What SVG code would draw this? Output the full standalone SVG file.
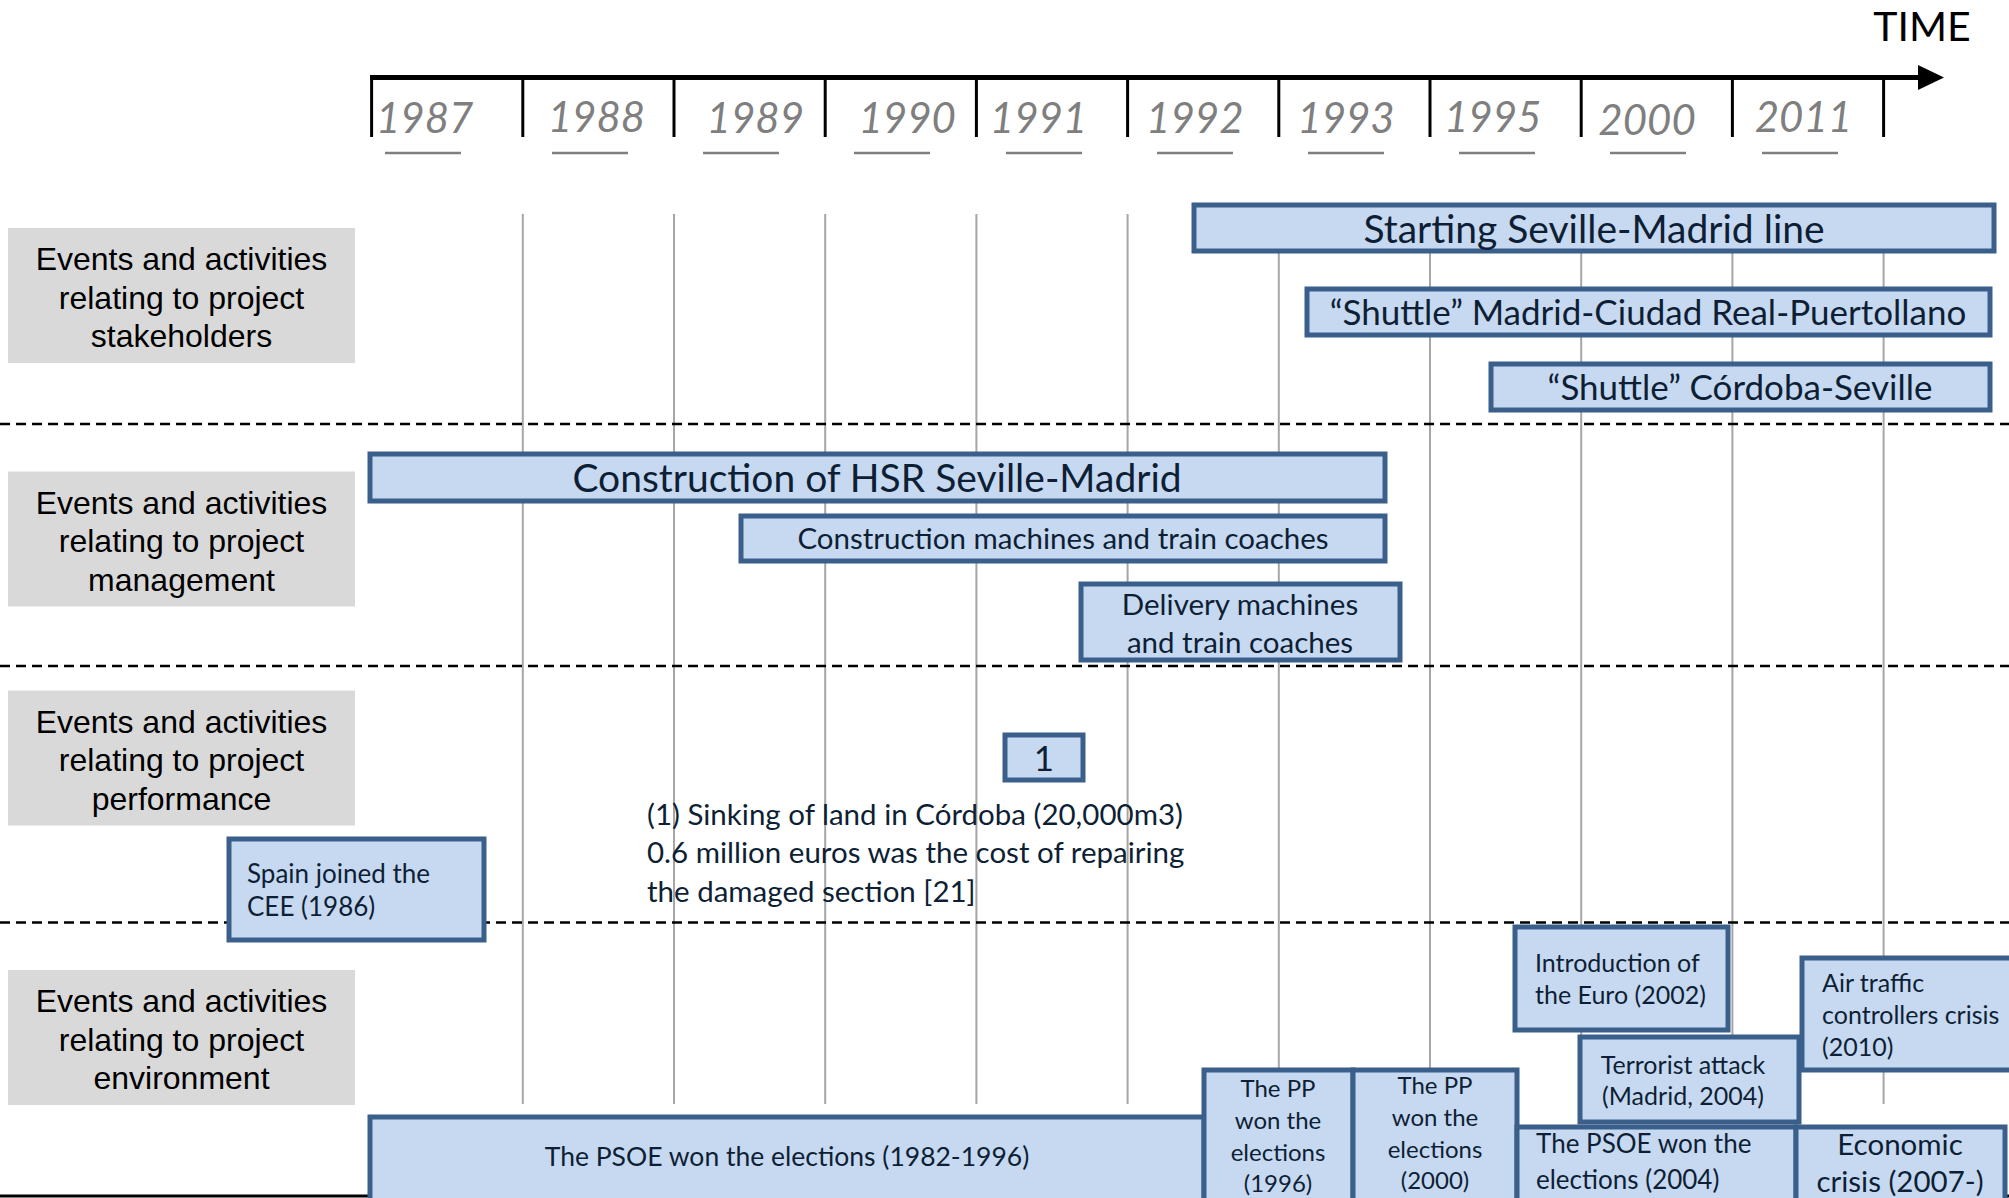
<svg xmlns="http://www.w3.org/2000/svg" width="2009" height="1198" viewBox="0 0 2009 1198">
<style>
.yr{font-family:Lato,"Open Sans",sans-serif;font-style:italic;font-size:42px;fill:#7f7f7f;text-anchor:middle}
.ul{stroke:#7f7f7f;stroke-width:2.5}
.tick{stroke:#000;stroke-width:3}
.grid{stroke:#a6a6a6;stroke-width:2}
.dash{stroke:#000;stroke-width:2.5;stroke-dasharray:10 6}
.cat{fill:#d9d9d9}
.ct{font-family:"Liberation Sans",Arial,sans-serif;font-size:32px;fill:#000;text-anchor:middle}
.bx{fill:#c6d9f1;stroke:#3a5f8b;stroke-width:5}
.t{font-family:Lato,"Open Sans",sans-serif;fill:#0e1f35}
.m{text-anchor:middle}
</style>
<rect width="2009" height="1198" fill="#fff"/>
<g id="axis">
<line x1="370" y1="77.5" x2="1920" y2="77.5" stroke="#000" stroke-width="5"/>
<polygon points="1918,65 1944,77.5 1918,90" fill="#000"/>
<text x="1922" y="41" font-family="Lato,'Open Sans',sans-serif" font-size="41" text-anchor="middle" fill="#000">TIME</text>
<line class="tick" x1="371.6" y1="77" x2="371.6" y2="137"/>
<line class="tick" x1="522.8" y1="77" x2="522.8" y2="137"/>
<line class="tick" x1="674" y1="77" x2="674" y2="137"/>
<line class="tick" x1="825.2" y1="77" x2="825.2" y2="137"/>
<line class="tick" x1="976.4" y1="77" x2="976.4" y2="137"/>
<line class="tick" x1="1127.6" y1="77" x2="1127.6" y2="137"/>
<line class="tick" x1="1278.8" y1="77" x2="1278.8" y2="137"/>
<line class="tick" x1="1430" y1="77" x2="1430" y2="137"/>
<line class="tick" x1="1581.2" y1="77" x2="1581.2" y2="137"/>
<line class="tick" x1="1732.4" y1="77" x2="1732.4" y2="137"/>
<line class="tick" x1="1883.6" y1="77" x2="1883.6" y2="137"/>
<text class="yr" x="424.7" y="133">1987</text>
<text class="yr" x="596.4" y="132">1988</text>
<text class="yr" x="755.3" y="133">1989</text>
<text class="yr" x="907.2" y="133">1990</text>
<text class="yr" x="1038.5" y="133">1991</text>
<text class="yr" x="1194.8" y="133">1992</text>
<text class="yr" x="1346" y="133">1993</text>
<text class="yr" x="1492.7" y="132">1995</text>
<text class="yr" x="1647.1" y="135">2000</text>
<text class="yr" x="1803.4" y="132">2011</text>
<line class="ul" x1="385" y1="153" x2="461" y2="153"/>
<line class="ul" x1="552" y1="153" x2="628" y2="153"/>
<line class="ul" x1="703" y1="153" x2="779" y2="153"/>
<line class="ul" x1="854" y1="153" x2="930" y2="153"/>
<line class="ul" x1="1006" y1="153" x2="1082" y2="153"/>
<line class="ul" x1="1157" y1="153" x2="1233" y2="153"/>
<line class="ul" x1="1308" y1="153" x2="1384" y2="153"/>
<line class="ul" x1="1459" y1="153" x2="1535" y2="153"/>
<line class="ul" x1="1610" y1="153" x2="1686" y2="153"/>
<line class="ul" x1="1762" y1="153" x2="1838" y2="153"/>
</g>
<g id="grid">
<line class="grid" x1="522.8" y1="214" x2="522.8" y2="1104"/>
<line class="grid" x1="674" y1="214" x2="674" y2="1104"/>
<line class="grid" x1="825.2" y1="214" x2="825.2" y2="1104"/>
<line class="grid" x1="976.4" y1="214" x2="976.4" y2="1104"/>
<line class="grid" x1="1127.6" y1="214" x2="1127.6" y2="1104"/>
<line class="grid" x1="1278.8" y1="214" x2="1278.8" y2="1104"/>
<line class="grid" x1="1430" y1="214" x2="1430" y2="1104"/>
<line class="grid" x1="1581.2" y1="214" x2="1581.2" y2="1104"/>
<line class="grid" x1="1732.4" y1="214" x2="1732.4" y2="1104"/>
<line class="grid" x1="1883.6" y1="214" x2="1883.6" y2="1104"/>
</g>
<g id="separators">
<line class="dash" x1="0" y1="424" x2="2009" y2="424"/>
<line class="dash" x1="0" y1="666" x2="2009" y2="666"/>
<line class="dash" x1="0" y1="922.5" x2="2009" y2="922.5"/>
<line x1="0" y1="1196" x2="2009" y2="1196" stroke="#000" stroke-width="3"/>
</g>
<g id="cat-stakeholders">
<rect class="cat" x="8" y="228" width="347" height="135"/>
<text class="ct" x="181.5" y="270">Events and activities</text>
<text class="ct" x="181.5" y="308.5">relating to project</text>
<text class="ct" x="181.5" y="347">stakeholders</text>
</g>
<g id="cat-management">
<rect class="cat" x="8" y="471.5" width="347" height="135"/>
<text class="ct" x="181.5" y="513.5">Events and activities</text>
<text class="ct" x="181.5" y="552">relating to project</text>
<text class="ct" x="181.5" y="590.5">management</text>
</g>
<g id="cat-performance">
<rect class="cat" x="8" y="690.5" width="347" height="135"/>
<text class="ct" x="181.5" y="732.5">Events and activities</text>
<text class="ct" x="181.5" y="771">relating to project</text>
<text class="ct" x="181.5" y="809.5">performance</text>
</g>
<g id="cat-environment">
<rect class="cat" x="8" y="970" width="347" height="135"/>
<text class="ct" x="181.5" y="1012">Events and activities</text>
<text class="ct" x="181.5" y="1050.5">relating to project</text>
<text class="ct" x="181.5" y="1089">environment</text>
</g>
<g id="starting-line">
<rect class="bx" x="1194" y="205" width="800" height="46"/>
<text class="t m" x="1594" y="243" font-size="39">Starting Seville-Madrid line</text>
</g>
<g id="shuttle-puertollano">
<rect class="bx" x="1307" y="289" width="683" height="46"/>
<text class="t m" x="1648" y="325" font-size="35">“Shuttle” Madrid-Ciudad Real-Puertollano</text>
</g>
<g id="shuttle-cordoba">
<rect class="bx" x="1491" y="364" width="499" height="46"/>
<text class="t m" x="1740" y="400" font-size="35">“Shuttle” Córdoba-Seville</text>
</g>
<g id="construction-hsr">
<rect class="bx" x="370" y="454" width="1015" height="47"/>
<text class="t m" x="877" y="492" font-size="39">Construction of HSR Seville-Madrid</text>
</g>
<g id="construction-machines">
<rect class="bx" x="741" y="516" width="644" height="45"/>
<text class="t m" x="1063" y="549" font-size="29.5">Construction machines and train coaches</text>
</g>
<g id="delivery">
<rect class="bx" x="1081" y="584" width="319" height="76"/>
<text class="t m" x="1240" y="615" font-size="29.5" fill="#000">Delivery machines</text>
<text class="t m" x="1240" y="653" font-size="29.5" fill="#000">and train coaches</text>
</g>
<g id="event-1">
<rect class="bx" x="1005" y="735" width="78" height="45"/>
<text class="t m" x="1044" y="771" font-size="35">1</text>
</g>
<g id="note-1">
<text class="t" x="647" y="825" font-size="29.5" fill="#000">(1) Sinking of land in Córdoba (20,000m3)</text>
<text class="t" x="647" y="863" font-size="29.5" fill="#000">0.6 million euros was the cost of repairing</text>
<text class="t" x="647" y="902" font-size="29.5" fill="#000">the damaged section [21]</text>
</g>
<g id="spain-cee">
<rect class="bx" x="229" y="839" width="255" height="101"/>
<text class="t" x="247" y="883" font-size="26" fill="#000">Spain joined the</text>
<text class="t" x="247" y="916" font-size="26" fill="#000">CEE (1986)</text>
</g>
<g id="psoe-1982">
<rect class="bx" x="370" y="1117" width="834" height="86"/>
<text class="t m" x="787" y="1166" font-size="26.5" fill="#000">The PSOE won the elections (1982-1996)</text>
</g>
<g id="pp-1996">
<rect class="bx" x="1204" y="1070" width="149" height="133"/>
<text class="t m" x="1278" y="1097" font-size="24" fill="#000">The PP</text>
<text class="t m" x="1278" y="1129" font-size="24" fill="#000">won the</text>
<text class="t m" x="1278" y="1161" font-size="24" fill="#000">elections</text>
<text class="t m" x="1278" y="1192" font-size="24" fill="#000">(1996)</text>
</g>
<g id="pp-2000">
<rect class="bx" x="1353" y="1070" width="164" height="133"/>
<text class="t m" x="1435" y="1094" font-size="24" fill="#000">The PP</text>
<text class="t m" x="1435" y="1126" font-size="24" fill="#000">won the</text>
<text class="t m" x="1435" y="1158" font-size="24" fill="#000">elections</text>
<text class="t m" x="1435" y="1189" font-size="24" fill="#000">(2000)</text>
</g>
<g id="euro">
<rect class="bx" x="1515" y="927" width="213" height="103"/>
<text class="t" x="1535" y="972" font-size="25" fill="#000">Introduction of</text>
<text class="t" x="1535" y="1004" font-size="25" fill="#000">the Euro (2002)</text>
</g>
<g id="terrorist">
<rect class="bx" x="1580" y="1037" width="219" height="85"/>
<text class="t m" x="1683" y="1074" font-size="25" fill="#000">Terrorist attack</text>
<text class="t m" x="1683" y="1105" font-size="25" fill="#000">(Madrid, 2004)</text>
</g>
<g id="air-traffic">
<rect class="bx" x="1802" y="958" width="212" height="112"/>
<text class="t" x="1822" y="992" font-size="25" fill="#000">Air traffic</text>
<text class="t" x="1822" y="1024" font-size="25" fill="#000">controllers crisis</text>
<text class="t" x="1822" y="1056" font-size="25" fill="#000">(2010)</text>
</g>
<g id="psoe-2004">
<rect class="bx" x="1517" y="1127" width="279" height="76"/>
<text class="t" x="1536" y="1153" font-size="26" fill="#000">The PSOE won the</text>
<text class="t" x="1536" y="1189" font-size="26" fill="#000">elections (2004)</text>
</g>
<g id="economic">
<rect class="bx" x="1796" y="1127" width="209" height="76"/>
<text class="t m" x="1900" y="1155" font-size="29.5" fill="#000">Economic</text>
<text class="t m" x="1900" y="1192" font-size="29.5" fill="#000">crisis (2007-)</text>
</g>
</svg>
